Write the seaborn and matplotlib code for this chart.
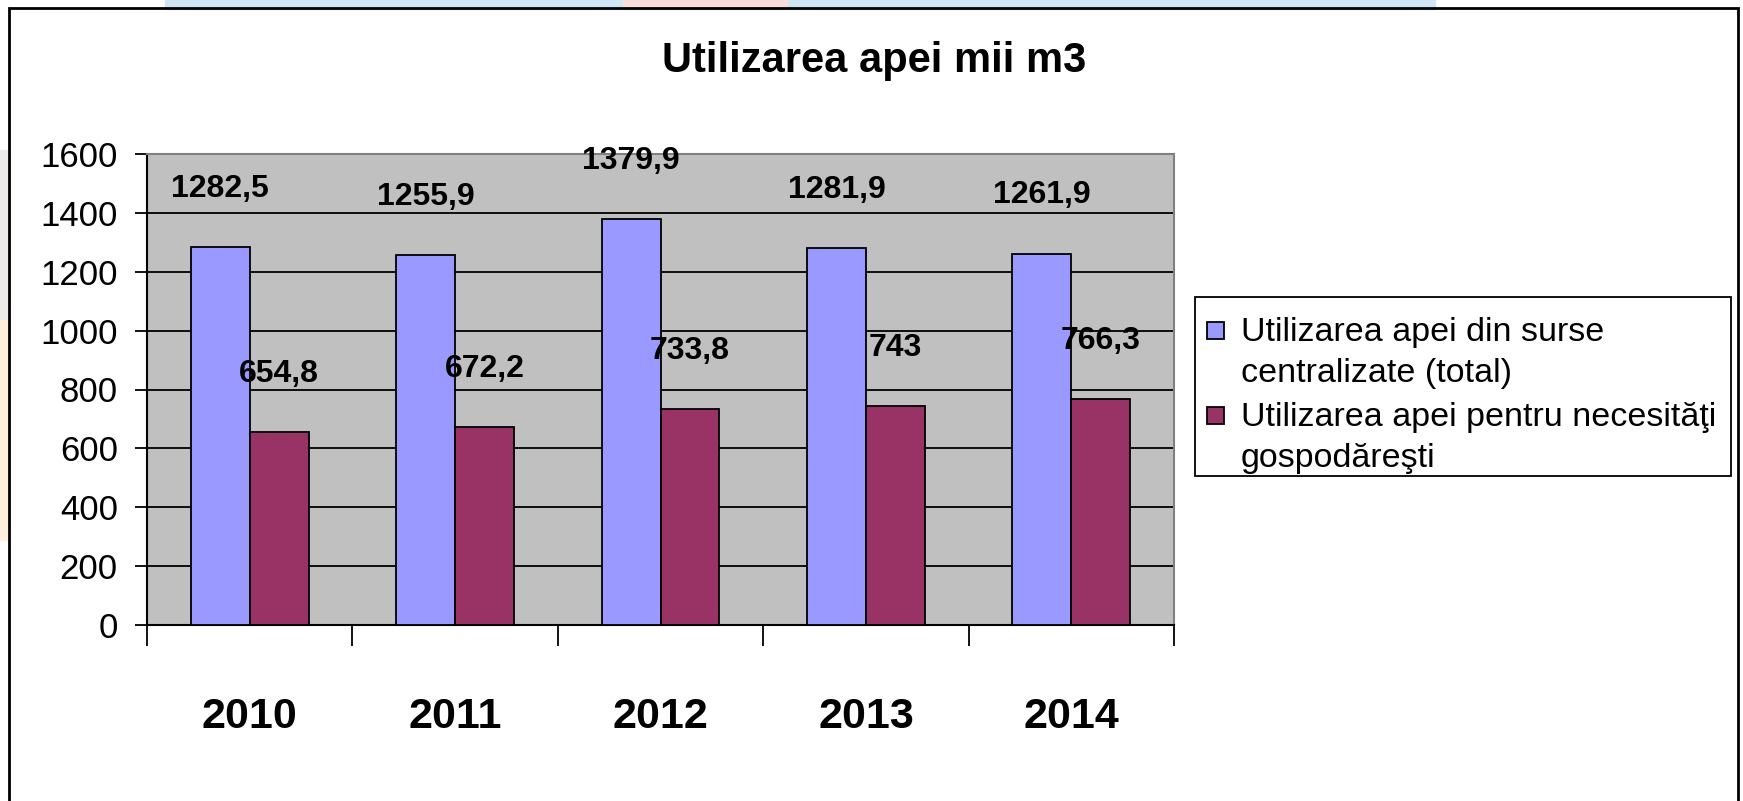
import seaborn as sns
import pandas as pd
from matplotlib import pyplot as plt
from matplotlib.patches import Rectangle
from matplotlib.legend_handler import HandlerPatch

# date
ani = ['2010', '2011', '2012', '2013', '2014']
total = [1282.5, 1255.9, 1379.9, 1281.9, 1261.9]
gospodaresti = [654.8, 672.2, 733.8, 743, 766.3]
serii = ['Utilizarea apei din surse\ncentralizate (total)',
         'Utilizarea apei pentru necesităţi\ngospodăreşti']
culori = ['#9999FF', '#993366']
yticks = [0, 200, 400, 600, 800, 1000, 1200, 1400, 1600]

df = pd.DataFrame({
    'an': ani * 2,
    'valoare': total + gospodaresti,
    'serie': [serii[0]] * len(ani) + [serii[1]] * len(ani),
})

plt.rcParams['font.family'] = ['Liberation Sans', 'DejaVu Sans']

W, H = 1743, 801
fig = plt.figure(figsize=(W / 100, H / 100), dpi=100)
fig.patch.set_facecolor('white')

# decor faint in fundal
fig.patches.append(Rectangle((165 / W, 1 - 9 / H), (1435 - 165) / W, 9 / H,
                             transform=fig.transFigure, color='#cfe6f5', zorder=-2))
fig.patches.append(Rectangle((623 / W, 1 - 9 / H), (787 - 623) / W, 9 / H,
                             transform=fig.transFigure, color='#f9dcdc', zorder=-2))
fig.patches.append(Rectangle((0, 1 - 320 / H), 9 / W, 170 / H,
                             transform=fig.transFigure, color='#ecebea', zorder=-2))
fig.patches.append(Rectangle((0, 1 - 540 / H), 9 / W, 220 / H,
                             transform=fig.transFigure, color='#fdefdc', zorder=-2))
# chenar
fig.patches.append(Rectangle((9 / W, -0.05), (1738 - 9) / W, 1.05 - 8.5 / H,
                             transform=fig.transFigure, fill=False,
                             edgecolor='black', linewidth=2, zorder=-1))
# chenar legenda
fig.patches.append(Rectangle((1195 / W, 1 - 476 / H), (1731 - 1195) / W, (476 - 297) / H,
                             transform=fig.transFigure, facecolor='white',
                             edgecolor='black', linewidth=1.3, zorder=-1))

ax = fig.add_axes([147 / W, 1 - 625 / H, (1174 - 147) / W, (625 - 154) / H])
ax.set_facecolor('#C0C0C0')

sns.barplot(data=df, x='an', y='valoare', hue='serie', palette=culori,
            width=0.573, gap=0, saturation=1, edgecolor='black', linewidth=1.3,
            ax=ax, zorder=3, legend=False)

for cont in ax.containers:
    ax.bar_label(cont, fmt=lambda v: f'{v:g}'.replace('.', ','), padding=31,
                 fontsize=23, fontweight='bold', zorder=4)

ax.set_ylim(0, 1600)
ax.set_xlim(-0.5, 4.5)
ax.set_yticks(yticks)
ax.yaxis.grid(True, color='black', linewidth=1.3, zorder=1)
ax.set_axisbelow(True)
ax.tick_params(axis='y', labelsize=25, length=9, width=1.3, direction='out',
               pad=12, colors='black')

ax.set_xticks([i - 0.5 for i in range(len(ani) + 1)])
ax.set_xticklabels([])
ax.set_xticks(range(len(ani)), minor=True)
ax.set_xticklabels(ani, minor=True, fontsize=31, fontweight='bold')
ax.tick_params(axis='x', which='major', length=15, width=1.3, direction='out')
ax.tick_params(axis='x', which='minor', length=0, pad=52)
ax.set_xlabel('')
ax.set_ylabel('')

for s in ['left', 'bottom']:
    ax.spines[s].set_color('black')
    ax.spines[s].set_linewidth(1.5)
for s in ['top', 'right']:
    ax.spines[s].set_color('#808080')
    ax.spines[s].set_linewidth(1.5)


# patratel aliniat cu primul rand al etichetei
def patrat_sus(legend, orig_handle, xdescent, ydescent, width, height, fontsize):
    s = 0.5 * fontsize
    return Rectangle((-xdescent, -ydescent + (height - s) / 2 + 0.66 * fontsize), s, s)


handles = [Rectangle((0, 0), 1, 1, facecolor=c, edgecolor='black', linewidth=1.3)
           for c in culori]
leg = ax.legend(handles, serii, loc='upper left',
                bbox_to_anchor=(1195 / W, 1 - 305 / H),
                bbox_transform=fig.transFigure, borderaxespad=0, fontsize=24.5,
                frameon=False, handlelength=0.5, handleheight=0.5,
                handletextpad=0.5, labelspacing=0.4, borderpad=0.35,
                handler_map={Rectangle: HandlerPatch(patch_func=patrat_sus)})
for t in leg.get_texts():
    t.set_linespacing(1.4)

fig.text(874 / W, 1 - 61 / H, 'Utilizarea apei mii m3', ha='center', va='center',
         fontsize=30, fontweight='bold')

plt.savefig('out.png', dpi=100)
